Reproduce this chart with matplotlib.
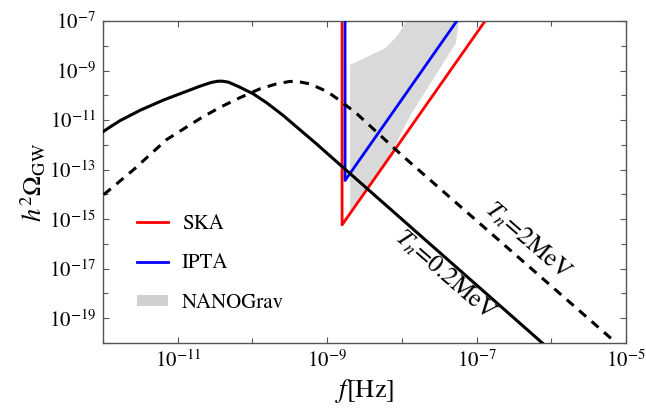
import numpy as np
import matplotlib
matplotlib.use("Agg")
import matplotlib.pyplot as plt
from matplotlib.lines import Line2D
from matplotlib.patches import Patch
from matplotlib.ticker import FixedLocator, NullFormatter

plt.rcParams['font.family'] = 'STIXGeneral'
plt.rcParams['mathtext.fontset'] = 'stix'

# ---- data (log10 values) ----
solid_logf = [-12.00, -11.88, -11.77, -11.50, -11.19, -10.70, -10.55, -10.46,
              -10.40, -10.32, -10.17, -9.99, -9.81, -9.59, -9.12, -8.96, -6.12]
solid_logO = [-11.47, -11.23, -11.02, -10.60, -10.19, -9.63, -9.48, -9.43,
              -9.43, -9.47, -9.67, -9.94, -10.30, -10.81, -12.02, -12.45, -20.0]

dashed_logf = [-11.99, -11.59, -11.15, -10.68, -10.43, -10.17, -9.90, -9.68,
               -9.50, -9.40, -9.23, -9.00, -8.83, -8.60, -8.00, -5.13]
dashed_logO = [-14.01, -13.00, -11.79, -10.90, -10.48, -10.10, -9.74, -9.54,
               -9.44, -9.44, -9.54, -9.85, -10.21, -10.75, -12.42, -20.0]

ska_logf = [-8.80, -8.80, -6.886]
ska_logO = [-7.0, -15.23, -7.0]

ipta_logf = [-8.76, -8.76, -7.265]
ipta_logO = [-7.0, -13.44, -7.0]

nano_logf = [-8.693, -8.225, -8.068, -7.934, -7.234, -7.279, -7.867, -8.00, -8.158, -8.693]
nano_logO = [-8.774, -8.10, -7.63, -7.0, -7.0, -7.90, -10.72, -11.46, -12.47, -14.77]

legend_labels = ['SKA', 'IPTA', 'NANOGrav']
curve_labels = [r'$T_n$=0.2MeV', r'$T_n$=2MeV']
curve_label_logf = [-7.43, -6.32]
curve_label_logO = [-17.28, -15.88]

xmajor = [-11, -9, -7, -5]
xminor = [-12, -10, -8, -6]
ymajor = [-19, -17, -15, -13, -11, -9, -7]
yminor = [-20, -18, -16, -14, -12, -10, -8]

def p(v):
    return 10.0 ** np.asarray(v)

fig = plt.figure(figsize=(6.46, 4.11), dpi=100)
ax = fig.add_axes([103/646, 1-343/411, 523/646, 322/411])
ax.set_xscale('log')
ax.set_yscale('log')
ax.set_xlim(1e-12, 1e-5)
ax.set_ylim(1e-20, 1e-7)

ax.fill(p(nano_logf), p(nano_logO), color='#d9d9d9', lw=0, zorder=1)
ax.plot(p(ska_logf), p(ska_logO), color='#ff0000', lw=2.0, zorder=2)
ax.plot(p(ipta_logf), p(ipta_logO), color='#0000ff', lw=2.0, zorder=3)
ax.plot(p(solid_logf), p(solid_logO), color='black', lw=2.2, zorder=4,
        solid_joinstyle='round')
ax.plot(p(dashed_logf), p(dashed_logO), color='black', lw=2.2, zorder=4,
        dashes=(3.0, 2.4))

for lab, lf, lo in zip(curve_labels, curve_label_logf, curve_label_logO):
    ax.text(p(lf), p(lo), lab, rotation=-41, fontsize=18,
            ha='center', va='center', rotation_mode='anchor')

ax.xaxis.set_major_locator(FixedLocator(p(xmajor)))
ax.xaxis.set_minor_locator(FixedLocator(p(xminor)))
ax.yaxis.set_major_locator(FixedLocator(p(ymajor)))
ax.yaxis.set_minor_locator(FixedLocator(p(yminor)))
ax.set_xticklabels([r'$10^{%d}$' % v for v in xmajor])
ax.set_yticklabels([r'$10^{%d}$' % v for v in ymajor])
ax.xaxis.set_minor_formatter(NullFormatter())
ax.yaxis.set_minor_formatter(NullFormatter())
ax.tick_params(which='both', direction='in', top=True, right=True,
               color='#555555', labelsize=15, width=0.8)
ax.tick_params(which='major', length=4.5)
ax.tick_params(which='minor', length=3.5)
ax.tick_params(axis='x', pad=5)
ax.tick_params(axis='y', pad=5)
for s in ax.spines.values():
    s.set_color('#555555')
    s.set_linewidth(1.0)

ax.set_xlabel(r'$f$[Hz]', fontsize=19, labelpad=4)
ax.set_ylabel(r'$h^2\Omega_{\rm GW}$', fontsize=19, labelpad=0)

handles = [Line2D([], [], color='#ff0000', lw=2.0),
           Line2D([], [], color='#0000ff', lw=2.0),
           Patch(facecolor='#d0d0d0', edgecolor='none')]
ax.legend(handles, legend_labels, loc='center left',
          bbox_to_anchor=((137-103)/523, (343-263.5)/322),
          frameon=False, fontsize=15, borderpad=0, borderaxespad=0,
          handlelength=1.5, handletextpad=0.65, labelspacing=0.95,
          handleheight=0.5)

fig.savefig('out.png', dpi=100)
